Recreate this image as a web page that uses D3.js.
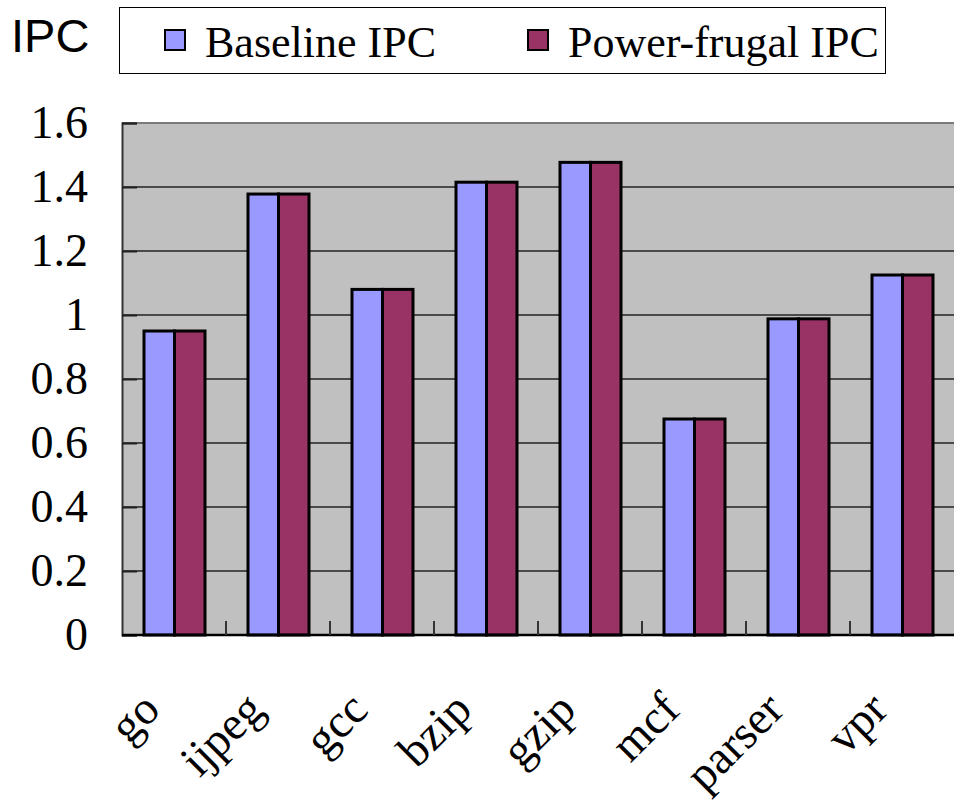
<!DOCTYPE html>
<html>
<head>
<meta charset="utf-8">
<script src="https://cdn.jsdelivr.net/npm/d3@7"></script>
<style>
	body { margin: 0; background: #fff; }
	svg { display: block; }
</style>
</head>
<body>
<svg id="chart" width="956" height="803"></svg>
<script>
(function(){
	'use strict';

	var categories = ["go", "ijpeg", "gcc", "bzip", "gzip", "mcf", "parser", "vpr"];
	var seriesNames = ["Baseline IPC", "Power-frugal IPC"];
	var baseline = [0.95, 1.378, 1.08, 1.415, 1.477, 0.675, 0.988, 1.125];
	var frugal = [0.95, 1.378, 1.08, 1.415, 1.477, 0.675, 0.988, 1.125];
	var yTicks = [0, 0.2, 0.4, 0.6, 0.8, 1, 1.2, 1.4, 1.6];
	var colors = ["#9999ff", "#993366"];

	var serif = "'Liberation Serif', 'Times New Roman', serif";

	var svg = d3.select("#chart");
	var margin = {top: 123, right: 2, bottom: 168, left: 122};
	var width = 956 - margin.left - margin.right;
	var height = 803 - margin.top - margin.bottom;

	var x = d3.scaleBand().domain(categories).range([0, width]);
	var xInner = d3.scaleBand().domain([0, 1]).range([22, x.bandwidth() - 21]);
	var y = d3.scaleLinear().domain([0, 1.6]).range([height, 0]);

	var g = svg.append("g")
		.attr("transform", "translate(" + margin.left + "," + margin.top + ")");

	// plot area
	g.append("rect")
		.attr("width", width)
		.attr("height", height)
		.attr("fill", "#c0c0c0");

	// gridlines
	g.append("g")
		.selectAll("line")
		.data(yTicks.slice(1))
		.enter().append("line")
			.attr("x1", 0)
			.attr("x2", width)
			.attr("y1", function(d){ return y(d); })
			.attr("y2", function(d){ return y(d); })
			.attr("stroke", function(d){ return d === 1.6 ? "#7a7a7a" : "#4a4a4a"; })
			.attr("stroke-width", 2);

	// y axis
	var yAxis = d3.axisLeft(y)
		.tickValues(yTicks)
		.tickSize(-15)
		.tickPadding(34)
		.tickFormat(function(d){ return d3.format("")(+d.toFixed(1)); });
	var yg = g.append("g").call(yAxis);
	yg.select(".domain").attr("stroke", "#333").attr("stroke-width", 2);
	yg.selectAll(".tick line").attr("stroke", "#222").attr("stroke-width", 2);
	yg.selectAll(".tick text")
		.attr("font-family", serif)
		.attr("font-size", 46)
		.attr("fill", "#000");

	// bars
	var data = categories.map(function(c, i){ return {cat: c, values: [baseline[i], frugal[i]]}; });
	var groups = g.append("g").selectAll("g")
		.data(data)
		.enter().append("g")
			.attr("transform", function(d){ return "translate(" + x(d.cat) + ",0)"; });
	groups.selectAll("rect")
		.data(function(d){ return d.values; })
		.enter().append("rect")
			.attr("x", function(d, i){ return xInner(i); })
			.attr("width", xInner.bandwidth())
			.attr("y", function(d){ return y(d); })
			.attr("height", function(d){ return height - y(d); })
			.attr("fill", function(d, i){ return colors[i]; })
			.attr("stroke", "#000")
			.attr("stroke-width", 3);

	// x axis: ticks between categories, pointing up
	var xg = g.append("g").attr("transform", "translate(0," + height + ")");
	xg.append("line")
		.attr("x1", 0).attr("x2", width)
		.attr("stroke", "#000").attr("stroke-width", 2.5);
	xg.selectAll("line.sep")
		.data(categories.slice(1))
		.enter().append("line")
			.attr("class", "sep")
			.attr("x1", function(d){ return x(d); })
			.attr("x2", function(d){ return x(d); })
			.attr("y1", 0).attr("y2", -14)
			.attr("stroke", "#333").attr("stroke-width", 2);
	xg.selectAll("text")
		.data(categories)
		.enter().append("text")
			.attr("transform", function(d){
				return "translate(" + (x(d) + x.bandwidth() / 2 - 12) + ",77) rotate(-45)";
			})
			.attr("text-anchor", "end")
			.attr("font-family", serif)
			.attr("font-size", 47)
			.text(function(d){ return d; });

	// title label
	svg.append("text")
		.attr("x", 11)
		.attr("y", 52)
		.attr("font-family", "'Liberation Sans', Arial, sans-serif")
		.attr("font-size", 47)
		.text("IPC");

	// legend
	var legend = svg.append("g");
	legend.append("rect")
		.attr("x", 119.5).attr("y", 7.5)
		.attr("width", 766).attr("height", 66)
		.attr("fill", "#fff")
		.attr("stroke", "#000").attr("stroke-width", 1);
	var legendX = [165, 528];
	var item = legend.selectAll("g")
		.data(seriesNames)
		.enter().append("g")
			.attr("transform", function(d, i){ return "translate(" + legendX[i] + ",30)"; });
	item.append("rect")
		.attr("width", 20).attr("height", 20)
		.attr("fill", function(d, i){ return colors[i]; })
		.attr("stroke", "#000").attr("stroke-width", 2);
	item.append("text")
		.attr("x", 40)
		.attr("y", 27)
		.attr("font-family", serif)
		.attr("font-size", 44)
		.text(function(d){ return d; });
}());
</script>
</body>
</html>
